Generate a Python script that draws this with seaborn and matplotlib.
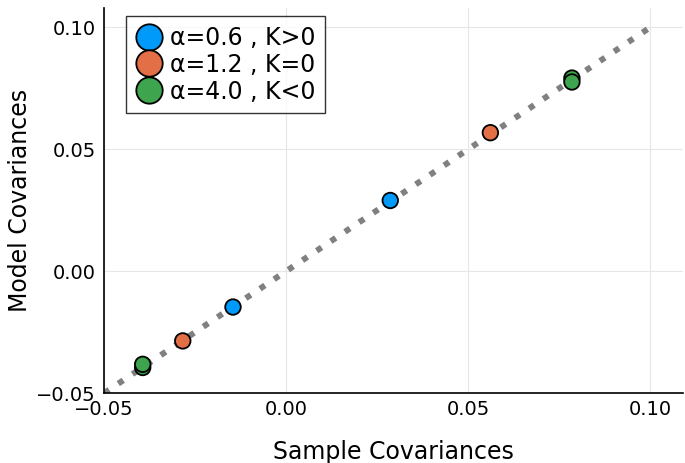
import numpy as np
import pandas as pd
import matplotlib
matplotlib.use("Agg")
import matplotlib.pyplot as plt
import seaborn as sns

# Sample vs model covariances
labels = ["α=0.6 , K>0", "α=1.2 , K=0", "α=4.0 , K<0"]
sample_cov = {
    labels[0]: [-0.0146, 0.0286],
    labels[1]: [-0.0284, 0.0561],
    labels[2]: [-0.0394, -0.0394, 0.0785, 0.0785],
}
model_cov = {
    labels[0]: [-0.0147, 0.0290],
    labels[1]: [-0.0286, 0.0568],
    labels[2]: [-0.0395, -0.0382, 0.0792, 0.0776],
}
colors = ["#009AFA", "#E36F47", "#3EA44E"]
diag = [-0.05, 0.10]

rows = []
for lab in labels:
    for sx, my in zip(sample_cov[lab], model_cov[lab]):
        rows.append({"sample": sx, "model": my, "group": lab})
df = pd.DataFrame(rows)

sns.set_style("white")
plt.rcParams['font.family'] = ['DejaVu Sans']
plt.rcParams['text.color'] = 'black'
plt.rcParams['axes.labelcolor'] = 'black'
plt.rcParams['xtick.color'] = 'black'
plt.rcParams['ytick.color'] = 'black'

fig = plt.figure(figsize=(6.85, 4.63), dpi=100)
ax = fig.add_axes([0.152, 0.151, 0.845, 0.832])

ax.plot(diag, diag, color="#808080", lw=4.3, ls=(0, (1, 1.855)), zorder=1)
sns.scatterplot(data=df, x="sample", y="model", hue="group", palette=colors,
                s=125, edgecolor="black", linewidth=1.3, ax=ax, zorder=3)

ax.set_xlim(-0.05, 0.109)
ax.set_ylim(-0.05, 0.108)
ticks = [-0.05, 0.00, 0.05, 0.10]
ax.set_xticks(ticks)
ax.set_yticks(ticks)
ax.set_xticklabels(["\u22120.05", "0.00", "0.05", "0.10"])
ax.set_yticklabels(["\u22120.05", "0.00", "0.05", "0.10"])
ax.grid(True, color="#e6e6e6", lw=0.8)
ax.set_axisbelow(True)
for side in ["top", "right"]:
    ax.spines[side].set_visible(False)
for side in ["left", "bottom"]:
    ax.spines[side].set_color("black")
    ax.spines[side].set_linewidth(1.2)
ax.tick_params(axis="both", labelsize=14, length=3, direction="in")
ax.tick_params(axis="x", pad=5)
ax.tick_params(axis="y", pad=6)
ax.set_xlabel("Sample Covariances", fontsize=17, labelpad=15)
ax.set_ylabel("Model Covariances", fontsize=17, labelpad=3)

leg = ax.legend(loc="upper left", bbox_to_anchor=(0.03, 0.99), fontsize=17,
                frameon=True, fancybox=False, edgecolor="black", markerscale=1.7,
                handletextpad=0.35, borderpad=0.4, labelspacing=0.12, handlelength=1.1,
                borderaxespad=0.2)
leg.get_frame().set_linewidth(1.0)

fig.savefig("out.png", dpi=100)
